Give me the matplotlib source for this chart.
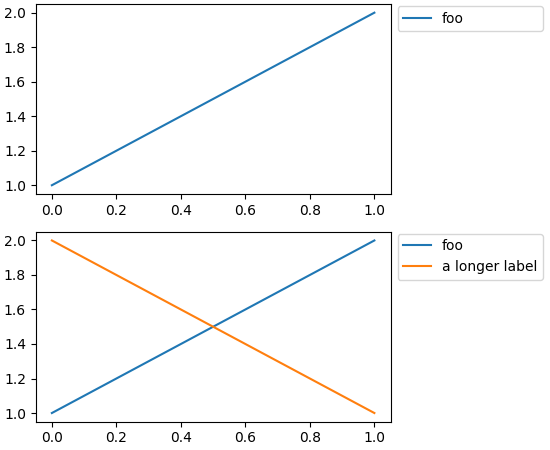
import matplotlib
matplotlib.use("Agg")
import matplotlib.pyplot as plt

x = [0, 1]
foo = [1, 2]
longer = [2, 1]

fig, (ax1, ax2) = plt.subplots(2, 1, figsize=(5.5, 4.5), dpi=100)
fig.subplots_adjust(left=0.065, right=0.71, top=0.991, bottom=0.063, hspace=0.2)

ax1.plot(x, foo, label="foo")
ax1.legend(loc="upper left", bbox_to_anchor=(1.02, 0.99, 0.41, 0), mode="expand", borderaxespad=0)

ax2.plot(x, foo, label="foo")
ax2.plot(x, longer, label="a longer label")
ax2.legend(loc="upper left", bbox_to_anchor=(1.02, 0.99), borderaxespad=0)

fig.savefig("out.png")
